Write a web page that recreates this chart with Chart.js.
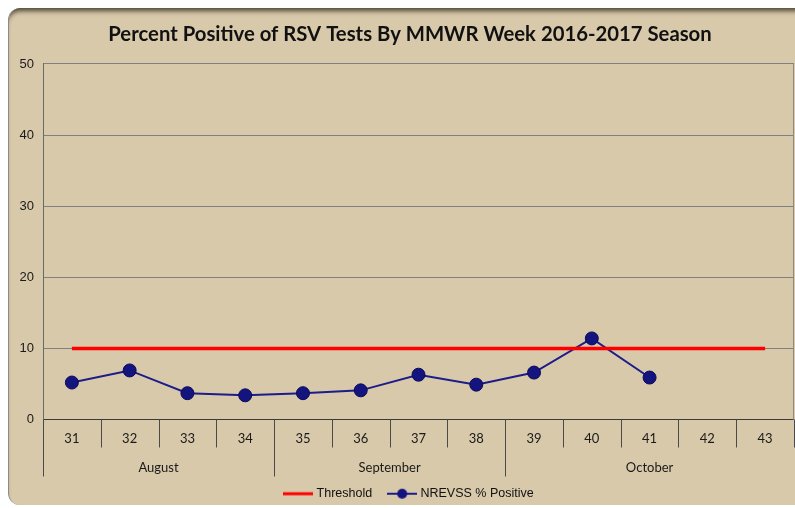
<!DOCTYPE html>
<html>
<head>
<meta charset="utf-8">
<script src="https://cdn.jsdelivr.net/npm/chart.js@4.4.1/dist/chart.umd.min.js"></script>
<style>
  html, body { margin: 0; padding: 0; background: #ffffff; overflow: hidden; }
  #panel {
    position: absolute; left: 8px; top: 8px; width: 820px; height: 497px;
    background: #d8c9aa; border-radius: 12px; border-left: 1px solid #8a8a8a;
    box-shadow: inset 0 6px 5px -3px rgba(50, 45, 30, 0.85);
  }
  #wrap { position: absolute; left: 0; top: 0; width: 795px; height: 508px; overflow: hidden; }
</style>
</head>
<body>
<div id="panel"></div>
<!-- the original panel runs past the right edge, so the canvas is wider and clipped -->
<div id="wrap"><canvas id="rsvChart" width="820" height="508"></canvas></div>
<script>
  const weeks = ["31", "32", "33", "34", "35", "36", "37", "38", "39", "40", "41", "42", "43"];
  const monthNames = ["August", "September", "October"];
  const monthSpans = [4, 4, 5];
  const threshold = [10, 10, 10, 10, 10, 10, 10, 10, 10, 10, 10, 10, 10];
  const nrevss = [5.2, 6.9, 3.7, 3.4, 3.7, 4.1, 6.3, 4.9, 6.6, 11.4, 5.9, null, null];
  const yTicks = [0, 10, 20, 30, 40, 50];

  // little legend icons (line, line + dot)
  function legendIcon(color, dot) {
    const c = document.createElement("canvas");
    c.width = 30; c.height = 12;
    const g = c.getContext("2d");
    g.strokeStyle = color;
    g.lineWidth = dot ? 2 : 3;
    g.beginPath(); g.moveTo(0, 6); g.lineTo(30, 6); g.stroke();
    if (dot) {
      g.fillStyle = "#14147f";
      g.beginPath(); g.arc(15, 6, 5, 0, Math.PI * 2); g.fill();
    }
    return c;
  }

  // week tick separators + month row
  const monthAxis = {
    id: "monthAxis",
    afterDraw(chart) {
      const { ctx, chartArea, scales: { x } } = chart;
      const step = (chartArea.right - chartArea.left) / weeks.length;
      const base = chartArea.bottom;
      const bounds = [0];
      monthSpans.forEach(s => bounds.push(bounds[bounds.length - 1] + s));
      ctx.save();
      ctx.strokeStyle = "#4a4a4a";
      ctx.lineWidth = 1;
      for (let i = 0; i <= weeks.length; i++) {
        const px = Math.round(chartArea.left + i * step) + 0.5;
        const isMonth = bounds.includes(i) && i < weeks.length;
        ctx.beginPath();
        ctx.moveTo(px, base);
        ctx.lineTo(px, base + (isMonth ? 57 : 28));
        ctx.stroke();
      }
      ctx.fillStyle = "#1a1a1a";
      ctx.font = "13px Lato";
      ctx.textAlign = "center";
      ctx.textBaseline = "middle";
      monthNames.forEach((m, k) => {
        const a = x.getPixelForValue(bounds[k]);
        const b = x.getPixelForValue(bounds[k + 1] - 1);
        ctx.fillText(m, (a + b) / 2, base + 48);
      });
      // plot area right border
      ctx.strokeStyle = "#8a8a8a";
      ctx.beginPath();
      ctx.moveTo(chartArea.right - 0.5, chartArea.top);
      ctx.lineTo(chartArea.right - 0.5, chartArea.bottom);
      ctx.stroke();
      ctx.restore();
    }
  };

  new Chart(document.getElementById("rsvChart"), {
    type: "line",
    data: {
      labels: weeks,
      datasets: [
        {
          label: "Threshold",
          data: threshold,
          borderColor: "#ff0000",
          borderWidth: 3.5,
          pointRadius: 0,
          pointHoverRadius: 0
        },
        {
          label: "NREVSS % Positive",
          data: nrevss,
          borderColor: "#1c1c8a",
          borderWidth: 2,
          pointRadius: 6.5,
          pointBackgroundColor: "#14147f",
          pointBorderColor: "#0a0a5a",
          pointBorderWidth: 1,
          spanGaps: false
        }
      ]
    },
    options: {
      responsive: false,
      animation: false,
      layout: { padding: { left: 0, right: 0, top: 0, bottom: -2 } },
      plugins: {
        title: {
          display: true,
          text: "Percent Positive of RSV Tests By MMWR Week 2016-2017 Season",
          color: "#111111",
          font: { family: "Lato", size: 20.3, weight: "bold" },
          padding: { top: 22, bottom: 17.6 }
        },
        legend: {
          position: "bottom",
          labels: {
            usePointStyle: true,
            pointStyleWidth: 24,
            padding: 18,
            color: "#111111",
            font: { family: "Liberation Sans", size: 12.5 },
            generateLabels(chart) {
              return chart.data.datasets.map((ds, i) => ({
                text: ds.label,
                datasetIndex: i,
                fontColor: "#111111",
                pointStyle: legendIcon(ds.borderColor, i === 1),
                lineWidth: 0,
                hidden: false
              }));
            }
          }
        },
        tooltip: { enabled: false }
      },
      scales: {
        x: {
          offset: true,
          grid: { display: false, drawTicks: false },
          border: { display: false },
          ticks: {
            color: "#1a1a1a",
            font: { family: "Lato", size: 13 },
            padding: 12,
            maxRotation: 0,
            autoSkip: false
          },
          // month row is drawn by the plugin below the week labels
          afterFit(scale) { scale.height = 50; }
        },
        y: {
          min: 0,
          max: 50,
          afterBuildTicks(scale) { scale.ticks = yTicks.map(v => ({ value: v })); },
          grid: {
            color: ctx => ctx.tick && ctx.tick.value === 0 ? "#3a3a3a" : "#808080",
            drawTicks: false
          },
          border: { color: "#6a6a6a" },
          ticks: {
            color: "#1a1a1a",
            font: { family: "Liberation Sans", size: 13 },
            padding: 9
          },
          afterFit(scale) { scale.width = 43; }
        },
        // empty right-hand spacer, keeps the plot ending at the window edge
        yRight: {
          position: "right",
          min: 0,
          max: 50,
          grid: { display: false, drawTicks: false },
          border: { display: false },
          ticks: { display: false },
          afterFit(scale) { scale.width = 26; }
        }
      }
    },
    plugins: [monthAxis]
  });
</script>
</body>
</html>
